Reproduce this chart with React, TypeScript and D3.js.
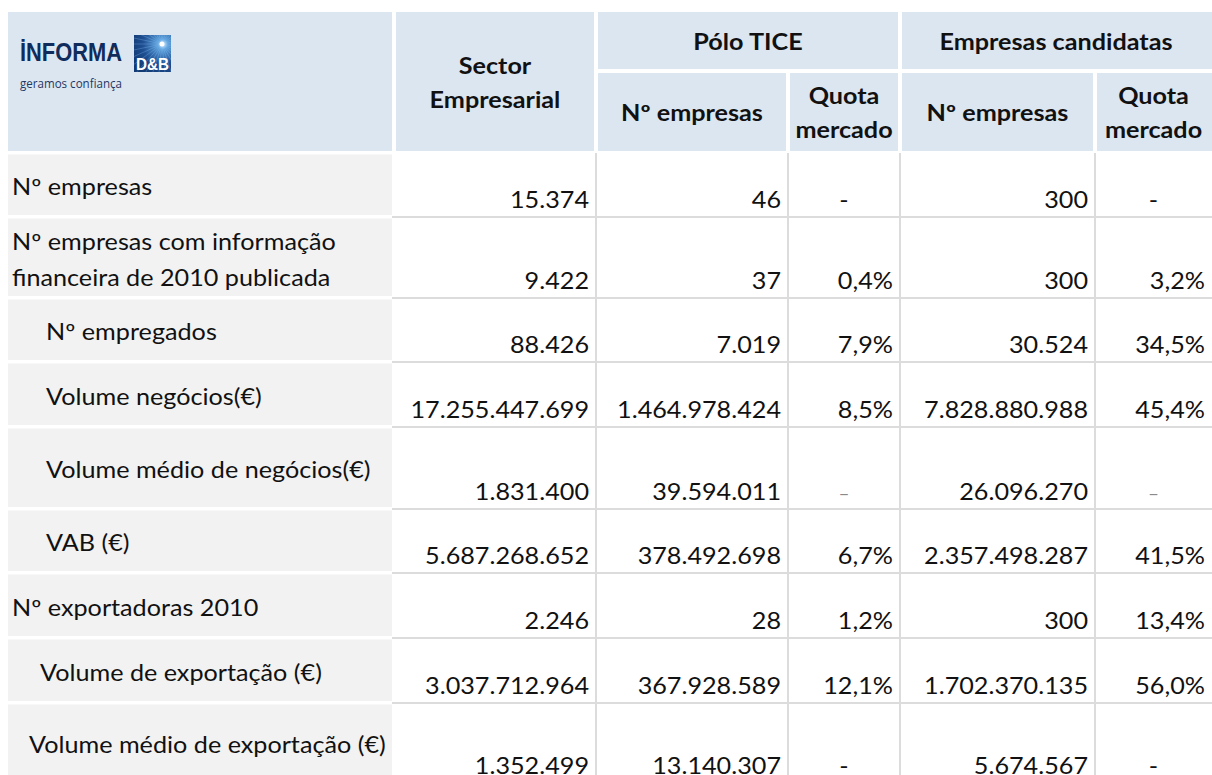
import * as d3 from "d3";

// ---- data ----
const rowLabels = [
  ["Nº empresas"],
  ["Nº empresas com informação", "financeira de 2010 publicada"],
  ["Nº empregados"],
  ["Volume negócios(€)"],
  ["Volume médio de negócios(€)"],
  ["VAB (€)"],
  ["Nº exportadoras 2010"],
  ["Volume de exportação (€)"],
  ["Volume médio de exportação (€)"],
];
const sectorValues = [15374, 9422, 88426, 17255447699, 1831400, 5687268652, 2246, 3037712964, 1352499];
const poloEmpresas = [46, 37, 7019, 1464978424, 39594011, 378492698, 28, 367928589, 13140307];
const poloQuota = [null, 0.004, 0.079, 0.085, null, 0.067, 0.012, 0.121, null];
const candEmpresas = [300, 300, 30524, 7828880988, 26096270, 2357498287, 300, 1702370135, 5674567];
const candQuota = [null, 0.032, 0.345, 0.454, null, 0.415, 0.134, 0.56, null];
const mutedDashRows = [4];

// ---- layout ----
const W = 1212;
const H = 775;
const FONT = "Lato, 'Open Sans', sans-serif";
const FS = 22.5;
const SX = 1.12;
const headerTop = 12;
const headerMid = 70;
const headerBottom = 153;
const rowHeights = [64, 81, 64, 65, 82, 64, 65, 65, 80];
const indents = [12, 12, 46, 46, 46, 46, 12, 40, 29];
const colKeys = ["label", "sector", "poloN", "poloQ", "candN", "candQ"];
const colEdges = [8, 394, 596, 788, 900, 1095, 1212];

const colLeft = d3.scaleOrdinal<string, number>().domain(colKeys).range(colEdges.slice(0, -1));
const colRight = d3.scaleOrdinal<string, number>().domain(colKeys).range(colEdges.slice(1));

const rowBottoms = Array.from(d3.cumsum(rowHeights), (d) => d + headerBottom);
const rowTops = [headerBottom, ...rowBottoms.slice(0, -1)];

const loc = d3.formatLocale({ decimal: ",", thousands: ".", grouping: [3], currency: ["", "€"] });
const fmtInt = loc.format(",d");
const fmtPct = loc.format(".1%");

const BLUE = "#dce6f1";
const GREY = "#f2f2f2";
const LINE = "#dcdcdc";

function T({ x, y, anchor = "start", bold = false, size = FS, fill = "#111", children }: any) {
  return (
    <text
      transform={`translate(${x},${y}) scale(${SX},1)`}
      textAnchor={anchor}
      fontFamily={FONT}
      fontSize={size}
      fontWeight={bold ? 700 : 400}
      fill={fill}
    >
      {children}
    </text>
  );
}

function Logo() {
  const rays = d3.range(0, 360, 12);
  return (
    <g>
      <text x={20} y={61} fontFamily="'Liberation Sans', Arial, sans-serif" fontWeight={700} fontSize={25}
        fill="#0f2c5c" textLength={102} lengthAdjust="spacingAndGlyphs">İNFORMA</text>
      <defs>
        <radialGradient id="db" cx="0.78" cy="0.25" r="0.9">
          <stop offset="0" stopColor="#e8f6ff" />
          <stop offset="0.15" stopColor="#5aa0dc" />
          <stop offset="0.6" stopColor="#1e4f92" />
          <stop offset="1" stopColor="#123a73" />
        </radialGradient>
        <clipPath id="dbc"><rect x={134} y={35} width={37} height={37} /></clipPath>
      </defs>
      <rect x={134} y={35} width={37} height={37} fill="url(#db)" />
      <g clipPath="url(#dbc)" stroke="#9fd0ff" strokeOpacity={0.45} strokeWidth={0.6}>
        {rays.map((a) => (
          <line key={a} x1={162} y1={44} x2={162 + 60 * Math.cos((a * Math.PI) / 180)} y2={44 + 60 * Math.sin((a * Math.PI) / 180)} />
        ))}
      </g>
      <circle cx={162} cy={44} r={2.5} fill="#ffffff" />
      <text x={152.5} y={70} textAnchor="middle" fontFamily="'Liberation Sans', Arial, sans-serif" fontWeight={700}
        fontSize={17} fill="#fff" textLength={33} lengthAdjust="spacingAndGlyphs">D&amp;B</text>
      <text x={20} y={88} fontFamily="'Open Sans', sans-serif" fontSize={13.5} fill="#1f3763"
        textLength={102} lengthAdjust="spacingAndGlyphs">geramos confiança</text>
    </g>
  );
}

function cellValue(v: number | null, col: string, i: number, isPct: boolean) {
  const base = rowBottoms[i] - 9;
  if (v === null) {
    const cx = (colLeft(col) + colRight(col)) / 2;
    const muted = mutedDashRows.includes(i);
    return (
      <T key={col + i} x={cx} y={base} anchor="middle" fill={muted ? "#8a8a8a" : "#111"} size={muted ? 17 : FS}>
        {muted ? "–" : "-"}
      </T>
    );
  }
  return (
    <T key={col + i} x={colRight(col) - 7} y={base} anchor="end">
      {isPct ? fmtPct(v) : fmtInt(v)}
    </T>
  );
}

export default function App() {
  const hx = (k: string) => (colLeft(k) + colRight(k)) / 2;
  const cols = [
    { key: "sector", vals: sectorValues, pct: false },
    { key: "poloN", vals: poloEmpresas, pct: false },
    { key: "poloQ", vals: poloQuota, pct: true },
    { key: "candN", vals: candEmpresas, pct: false },
    { key: "candQ", vals: candQuota, pct: true },
  ];
  return (
    <svg width={W} height={H} style={{ position: "absolute", left: 0, top: 0, background: "#fff" }}>
      {/* header cells */}
      <rect x={colLeft("label")} y={headerTop} width={colRight("label") - colLeft("label") - 2} height={headerBottom - headerTop - 2} fill={BLUE} />
      <rect x={colLeft("sector") + 2} y={headerTop} width={colRight("sector") - colLeft("sector") - 4} height={headerBottom - headerTop - 2} fill={BLUE} />
      <rect x={colLeft("poloN") + 2} y={headerTop} width={colRight("poloQ") - colLeft("poloN") - 4} height={headerMid - headerTop - 1} fill={BLUE} />
      <rect x={colLeft("candN") + 2} y={headerTop} width={colRight("candQ") - colLeft("candN") - 2} height={headerMid - headerTop - 1} fill={BLUE} />
      {["poloN", "poloQ", "candN", "candQ"].map((k) => (
        <rect key={k} x={colLeft(k) + 2} y={headerMid + 3} width={colRight(k) - colLeft(k) - (k === "candQ" ? 2 : 4)} height={headerBottom - headerMid - 5} fill={BLUE} />
      ))}

      <Logo />

      <g>
        <T x={hx("sector")} y={74} anchor="middle" bold>Sector</T>
        <T x={hx("sector")} y={108} anchor="middle" bold>Empresarial</T>
        <T x={(colLeft("poloN") + colRight("poloQ")) / 2} y={50} anchor="middle" bold>Pólo TICE</T>
        <T x={(colLeft("candN") + colRight("candQ")) / 2} y={50} anchor="middle" bold>Empresas candidatas</T>
        <T x={hx("poloN")} y={121} anchor="middle" bold>Nº empresas</T>
        <T x={hx("poloQ")} y={104} anchor="middle" bold>Quota</T>
        <T x={hx("poloQ")} y={138} anchor="middle" bold>mercado</T>
        <T x={hx("candN")} y={121} anchor="middle" bold>Nº empresas</T>
        <T x={hx("candQ")} y={104} anchor="middle" bold>Quota</T>
        <T x={hx("candQ")} y={138} anchor="middle" bold>mercado</T>
      </g>

      {/* label cells */}
      {rowLabels.map((lines, i) => {
        const top = rowTops[i];
        const h = rowHeights[i];
        const cy = top + h / 2 + 2;
        return (
          <g key={"r" + i}>
            <rect x={colLeft("label")} y={top + 1.5} width={colRight("label") - colLeft("label") - 2} height={h - 3.5} fill={GREY} />
            {lines.map((ln, j) => (
              <T key={j} x={indents[i]} y={cy + (j - (lines.length - 1) / 2) * 36 + 8}>{ln}</T>
            ))}
          </g>
        );
      })}

      {/* grid lines in value area */}
      {rowBottoms.slice(0, -1).map((y, i) => (
        <line key={"h" + i} x1={colRight("label") - 2} x2={W} y1={y} y2={y} stroke={LINE} strokeWidth={2} />
      ))}
      {["poloN", "poloQ", "candN", "candQ"].map((k) => (
        <line key={"v" + k} x1={colLeft(k)} x2={colLeft(k)} y1={headerBottom} y2={H} stroke={LINE} strokeWidth={2} />
      ))}

      {cols.map((c) => c.vals.map((v, i) => cellValue(v as number | null, c.key, i, c.pct)))}
    </svg>
  );
}
